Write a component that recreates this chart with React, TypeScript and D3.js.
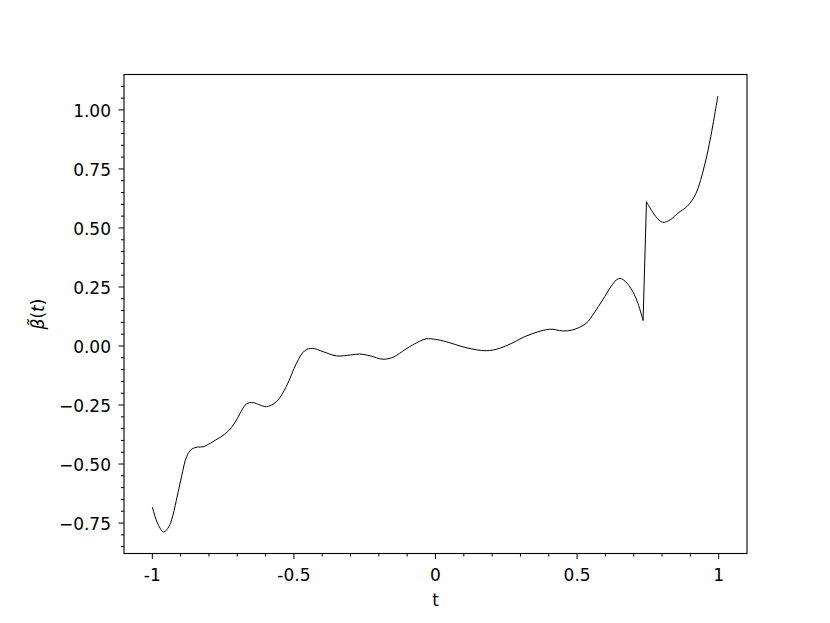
import React, {useEffect, useRef} from 'react'
import * as d3 from 'd3'

// t values and the estimated coefficient function
const tValues = [
  -1.0, -0.98, -0.96, -0.945, -0.932, -0.915, -0.897, -0.879, -0.862, -0.84,
  -0.821, -0.786, -0.744, -0.72, -0.703, -0.668, -0.644, -0.62, -0.597, -0.562,
  -0.527, -0.491, -0.462, -0.435, -0.397, -0.35, -0.3, -0.268, -0.23, -0.186,
  -0.15, -0.127, -0.08, -0.033, 0.0, 0.038, 0.108, 0.179, 0.226, 0.27,
  0.32, 0.402, 0.449, 0.484, 0.532, 0.56, 0.59, 0.62, 0.638, 0.652, 0.67,
  0.696, 0.715, 0.733, 0.745, 0.778, 0.802, 0.83, 0.855, 0.89, 0.92,
  0.949, 0.972, 0.997
]
const betaValues = [
  -0.682, -0.755, -0.788, -0.772, -0.737, -0.653, -0.554, -0.469, -0.438, -0.428,
  -0.427, -0.405, -0.373, -0.345, -0.314, -0.246, -0.24, -0.25, -0.257, -0.236,
  -0.172, -0.073, -0.02, -0.01, -0.024, -0.042, -0.038, -0.034, -0.042, -0.056,
  -0.048, -0.031, 0.005, 0.03, 0.028, 0.018, -0.007, -0.02, -0.01, 0.012,
  0.042, 0.071, 0.064, 0.068, 0.096, 0.14, 0.195, 0.252, 0.279, 0.286, 0.274,
  0.232, 0.18, 0.108, 0.611, 0.548, 0.524, 0.535, 0.562, 0.593, 0.647,
  0.76, 0.887, 1.059
]
// index where the curve jumps
const jumpIndex = 54

const xTicks = [-1, -0.5, 0, 0.5, 1]
const xTickLabels = ['-1', '-0.5', '0', '0.5', '1']
const yTicks = [-0.75, -0.5, -0.25, 0, 0.25, 0.5, 0.75, 1.0]

const W = 830
const H = 623
const left = 124
const right = 747
const top = 74.5
const bottom = 553.5
const font = 'DejaVu Sans, sans-serif'

export default function App () {
  const ref = useRef<SVGSVGElement>(null)

  useEffect(() => {
    const svg = d3.select(ref.current)
    svg.selectAll('*').remove()

    const x = d3.scaleLinear().domain([-1.1, 1.1]).range([left, right])
    const y = d3.scaleLinear().domain([-0.879, 1.15]).range([bottom, top])

    const pts: [number, number][] = tValues.map((t, i) => [t, betaValues[i]])
    const line = d3.line<[number, number]>()
      .x(d => x(d[0]))
      .y(d => y(d[1]))
      .curve(d3.curveCatmullRom.alpha(0.5))
    const straight = d3.line<[number, number]>().x(d => x(d[0])).y(d => y(d[1]))

    const g = svg.append('g')
    g.append('path').attr('d', line(pts.slice(0, jumpIndex)))
      .attr('fill', 'none').attr('stroke', '#000').attr('stroke-width', 1)
    g.append('path').attr('d', straight(pts.slice(jumpIndex - 1, jumpIndex + 1)))
      .attr('fill', 'none').attr('stroke', '#000').attr('stroke-width', 1)
    g.append('path').attr('d', line(pts.slice(jumpIndex)))
      .attr('fill', 'none').attr('stroke', '#000').attr('stroke-width', 1)

    // frame
    svg.append('rect').attr('x', left).attr('y', top)
      .attr('width', right - left).attr('height', bottom - top)
      .attr('fill', 'none').attr('stroke', '#000').attr('stroke-width', 1.1)

    // x ticks
    const xMinor = d3.range(-10, 11).map(i => i / 10).filter(v => !xTicks.some(m => Math.abs(m - v) < 1e-9))
    svg.selectAll('.xminor').data(xMinor).enter().append('line')
      .attr('x1', d => x(d)).attr('x2', d => x(d))
      .attr('y1', bottom).attr('y2', bottom + 3)
      .attr('stroke', '#000').attr('stroke-width', 1)
    svg.selectAll('.xmajor').data(xTicks).enter().append('line')
      .attr('x1', d => x(d)).attr('x2', d => x(d))
      .attr('y1', bottom).attr('y2', bottom + 5.5)
      .attr('stroke', '#000').attr('stroke-width', 1)
    svg.selectAll('.xlab').data(xTicks).enter().append('text')
      .attr('x', d => x(d)).attr('y', bottom + 27.5)
      .attr('text-anchor', 'middle')
      .attr('font-family', font).attr('font-size', 17)
      .text((d, i) => xTickLabels[i])

    // y ticks
    const yMinor = d3.range(-17, 23).map(i => i * 0.05)
      .filter(v => v > -0.879 && v < 1.15 && !yTicks.some(m => Math.abs(m - v) < 1e-9))
    svg.selectAll('.yminor').data(yMinor).enter().append('line')
      .attr('x1', left - 3).attr('x2', left)
      .attr('y1', d => y(d)).attr('y2', d => y(d))
      .attr('stroke', '#000').attr('stroke-width', 1)
    svg.selectAll('.ymajor').data(yTicks).enter().append('line')
      .attr('x1', left - 5.5).attr('x2', left)
      .attr('y1', d => y(d)).attr('y2', d => y(d))
      .attr('stroke', '#000').attr('stroke-width', 1)
    svg.selectAll('.ylab').data(yTicks).enter().append('text')
      .attr('x', 111).attr('y', d => y(d) + 7)
      .attr('text-anchor', 'end')
      .attr('font-family', font).attr('font-size', 17)
      .text(d => d3.format('.2f')(d).replace('-', '\u2212'))

    // axis labels
    svg.append('text').attr('x', (left + right) / 2).attr('y', 605.5)
      .attr('text-anchor', 'middle')
      .attr('font-family', font).attr('font-size', 17)
      .text('t')
    const yl = svg.append('text')
      .attr('transform', `translate(44, ${(top + bottom) / 2}) rotate(-90)`)
      .attr('text-anchor', 'middle')
      .attr('font-family', font).attr('font-size', 17)
    yl.append('tspan').attr('font-style', 'italic').text('\u03b2\u0303')
    yl.append('tspan').text('(')
    yl.append('tspan').attr('font-style', 'italic').text('t')
    yl.append('tspan').text(')')
  }, [])

  return (
    <svg ref={ref} width={W} height={H}
      style={{position: 'absolute', left: 0, top: 0, background: '#fff'}} />
  )
}
